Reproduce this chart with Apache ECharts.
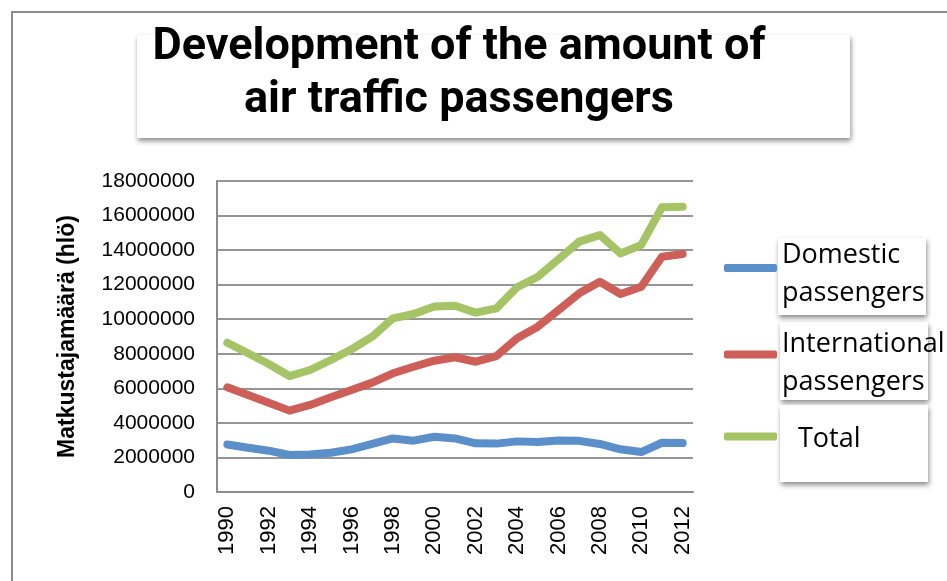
<!DOCTYPE html>
<html><head><meta charset="utf-8">
<script src="https://cdn.jsdelivr.net/npm/echarts@6/dist/echarts.min.js"></script>
<style>html,body{margin:0;padding:0;background:#fff}#c{width:947px;height:581px}</style>
</head><body><div id="c"></div>
<script>
const years = ['1990','1991','1992','1993','1994','1995','1996','1997','1998','1999','2000','2001','2002','2003','2004','2005','2006','2007','2008','2009','2010','2011','2012'];
const domestic = [2750000,2560000,2390000,2140000,2170000,2270000,2470000,2780000,3100000,2970000,3200000,3100000,2820000,2800000,2930000,2900000,2980000,2960000,2780000,2470000,2310000,2850000,2830000];
const international = [6060000,5610000,5170000,4710000,5040000,5480000,5900000,6330000,6870000,7250000,7600000,7800000,7540000,7870000,8900000,9570000,10530000,11500000,12170000,11460000,11880000,13620000,13770000];
const total = [8640000,8030000,7410000,6710000,7060000,7640000,8260000,8990000,10050000,10300000,10730000,10780000,10380000,10630000,11850000,12460000,13470000,14490000,14870000,13810000,14300000,16480000,16510000];
const seriesNames = ['Domestic passengers','International passengers','Total'];
const titleText = 'Development of the amount of\nair traffic passengers';
const yAxisName = 'Matkustajamäärä (hlö)';

const chart = echarts.init(document.getElementById('c'));
const font = 'Liberation Sans';
function mk(name, data, color){
  return {name, type:'line', data, symbol:'none', smooth:false,
    lineStyle:{width:8, color, cap:'round', join:'round'}, itemStyle:{color}};
}
const boxStyle = {fill:'#fff', shadowBlur:5, shadowColor:'rgba(0,0,0,0.45)', shadowOffsetY:3, shadowOffsetX:1};
chart.setOption({
  animation:false,
  graphic:[
    {type:'rect', shape:{x:12,y:12,width:1000,height:700}, style:{fill:'none', stroke:'#8c8c8c', lineWidth:2}, z:-10},
    {type:'rect', shape:{x:137,y:35,width:713,height:103}, style:boxStyle, z:-5},
    {type:'rect', shape:{x:778,y:238,width:148,height:77}, style:boxStyle, z:-5},
    {type:'rect', shape:{x:780,y:322,width:148,height:78}, style:boxStyle, z:-5},
    {type:'rect', shape:{x:780,y:405,width:148,height:77}, style:boxStyle, z:-5}
  ],
  title:{text:titleText, left:454, top:16, textAlign:'center',
    textStyle:{fontFamily:'Roboto', fontWeight:'bold', fontSize:45, lineHeight:53, color:'#000'}},
  legend:{orient:'vertical', left:719, top:221, itemWidth:53, itemHeight:8, itemGap:6, icon:'roundRect',
    data:seriesNames,
    formatter:function(n){
      if(n==='Total') return '{e3|}\n{t|Total}\n{e4|}';
      if(n==='Domestic passengers') return '{e1|}\n{a|Domestic}\n{a|passengers}';
      return '{e2|}\n{a|International}\n{a|passengers}';
    },
    textStyle:{fontFamily:'Open Sans', fontSize:27, color:'#000',
      rich:{
        a:{fontFamily:'Open Sans', fontSize:27, lineHeight:38, color:'#000'},
        e1:{fontSize:8, lineHeight:12},
        e2:{fontSize:8, lineHeight:18},
        e3:{fontSize:8, lineHeight:29},
        e4:{fontSize:8, lineHeight:23},
        t:{fontFamily:'Open Sans', fontSize:27, lineHeight:38, color:'#000', padding:[0,0,0,16]}
      }
    }
  },
  grid:{left:217, right:254, top:181, bottom:89, containLabel:false},
  xAxis:{type:'category', data:years, boundaryGap:true,
    axisLine:{lineStyle:{color:'#8c8c8c', width:2}}, axisTick:{show:false},
    axisLabel:{rotate:90, interval:1, fontFamily:font, fontSize:22, color:'#000', margin:14}},
  yAxis:{type:'value', min:0, max:18000000, interval:2000000,
    name:yAxisName, nameLocation:'middle', nameGap:138, nameRotate:90,
    nameTextStyle:{fontFamily:font, fontWeight:'bold', fontSize:23, color:'#000'},
    axisLine:{show:true, lineStyle:{color:'#8c8c8c', width:2}}, axisTick:{show:false},
    splitLine:{lineStyle:{color:'#969696', width:2}},
    axisLabel:{fontFamily:font, fontSize:21, color:'#000', margin:22, formatter:function(v){return String(v);}}},
  series:[mk(seriesNames[0], domestic, '#5b8fc9'), mk(seriesNames[1], international, '#cd5f58'), mk(seriesNames[2], total, '#a5c466')]
});
</script></body></html>
